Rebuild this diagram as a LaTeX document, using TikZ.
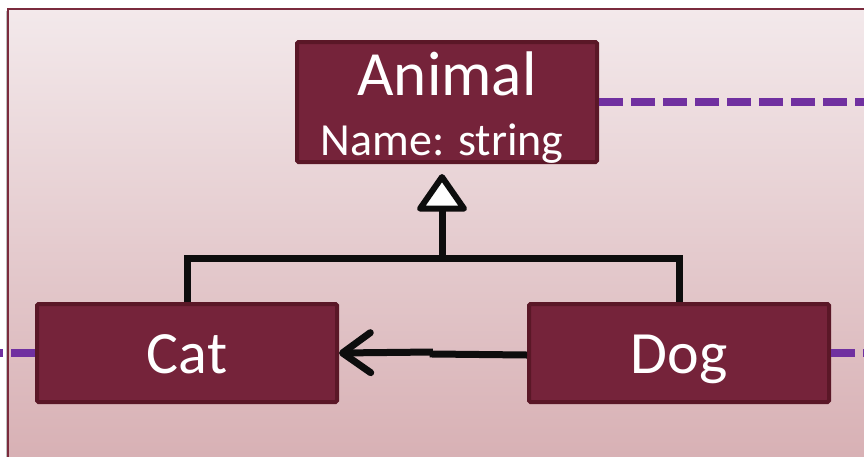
\documentclass[tikz,border=0pt]{standalone}
\usepackage{fontspec}
\setmainfont{Carlito}
\usetikzlibrary{arrows.meta}
\definecolor{boxfill}{HTML}{75233A}
\definecolor{boxline}{HTML}{5A1727}
\definecolor{framecol}{HTML}{7B2B3D}
\definecolor{bgtop}{HTML}{F3E9EB}
\definecolor{bgbot}{HTML}{D7AFB3}
\definecolor{linkpurple}{HTML}{7030A0}
\begin{document}
\begin{tikzpicture}[x=1pt,y=-1pt,
  classbox/.style={draw=boxline, fill=boxfill, line width=4pt, rounded corners=1.5pt,
    minimum width=300pt, text=white, inner sep=0pt},
  boxtext/.style={text=white, inner sep=0pt, anchor=base},
  link/.style={draw=linkpurple, line width=7.5pt, dash pattern=on 24pt off 8pt},
  conn/.style={draw=black!95, line width=7pt},
]
\useasboundingbox (0,0) rectangle (864,456);
\clip (0,0) rectangle (864,456);
\shade[top color=bgtop, bottom color=bgbot] (8,9) rectangle (880,470);
\draw[black!25, line width=1.5pt] (6.5,11) -- (6.5,470);
\draw[framecol, line width=2pt] (8,9) rectangle (880,470);

\node[classbox, minimum height=120pt] (Animal) at (447,102) {};
\node[boxtext, font=\fontsize{63}{63}\selectfont] (animaltitle) at (447,95) {Animal};
\node[boxtext, font=\fontsize{46}{46}\selectfont] (animalattr) at (442,155) {Name: string};
\node[classbox, minimum height=98pt, font=\fontsize{60}{60}\selectfont,
  text height=52pt, text depth=12pt] (Cat) at (187,353) {Cat};
\node[classbox, minimum height=98pt, font=\fontsize{60}{60}\selectfont,
  text height=52pt, text depth=12pt] (Dog) at (679,353) {Dog};

\coordinate (junction) at (442,258);
\coordinate (kink) at (433,352);
\draw[conn] (Cat.north) |- (junction) -| (Dog.north);
\draw[conn, shorten >=10pt,
  -{Triangle[length=40pt, width=54pt, fill=white, round, line width=6pt]}]
  (junction) -- (junction |- Animal.south);
\draw[conn] ([yshift=-2pt]Dog.west) -- ([yshift=-2pt]kink) -- (kink);
\draw[conn, -{Straight Barb[length=28pt, width=40pt, round]}] (kink) -- (Cat.east);

\coordinate (rightendA) at (872,102);
\coordinate (leftendC) at (-8,353);
\coordinate (rightendD) at (872,353);
\draw[link] (Animal.east) -- (rightendA);
\draw[link] (Cat.west) -- (leftendC);
\draw[link] (Dog.east) -- (rightendD);
\end{tikzpicture}
\end{document}
